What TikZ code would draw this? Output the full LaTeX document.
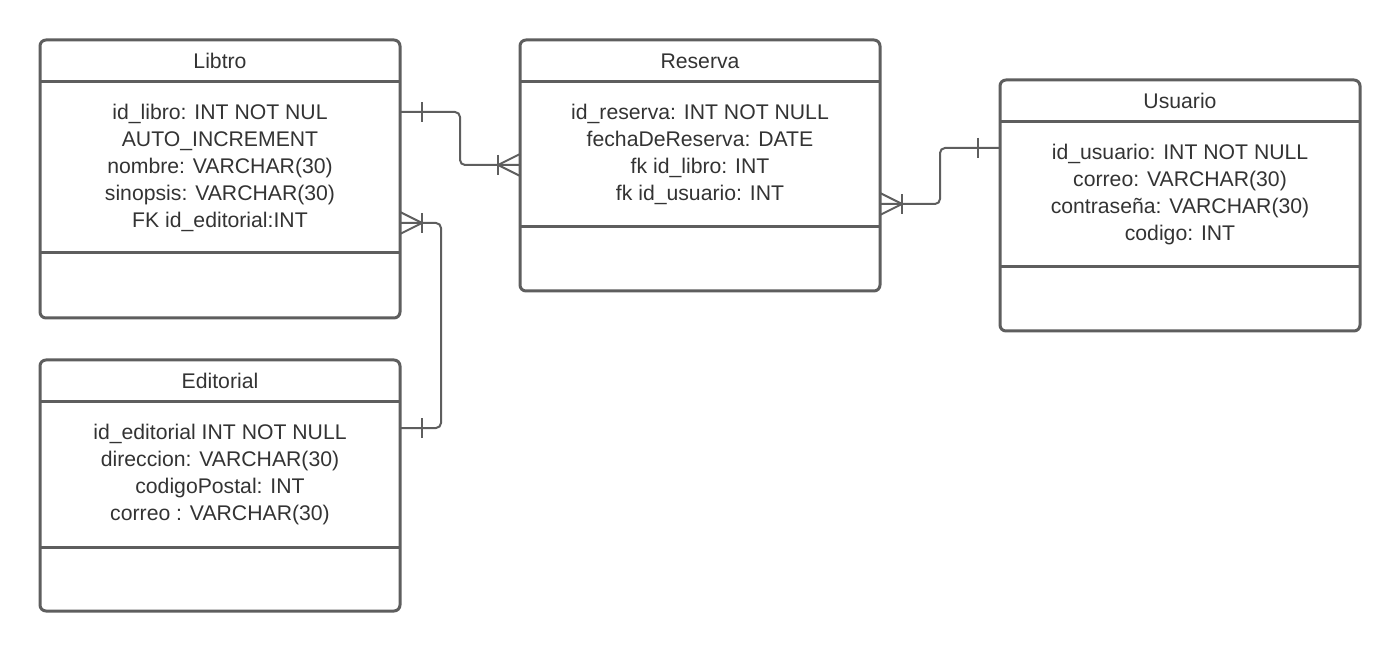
\documentclass[tikz,border=0pt]{standalone}
\usepackage{fontspec}
\setmainfont{Liberation Sans}
\usepackage{xcolor}
\usetikzlibrary{positioning}

\definecolor{lineclr}{HTML}{5E5E5E}
\definecolor{txtclr}{HTML}{333333}

\begin{document}
\begin{tikzpicture}[
        x=0.5pt, y=-0.5pt,
        table/.style={rectangle, draw=lineclr, line width=1.5pt, rounded corners=3pt,
          minimum width=180pt, inner sep=0pt, outer sep=0pt},
        head/.style={minimum width=180pt, minimum height=21pt, inner sep=0pt, outer sep=0pt,
          text=txtclr, font=\fontsize{10.6pt}{13.5pt}\selectfont},
        attrs/.style={minimum width=180pt, inner sep=0pt, outer sep=0pt, align=center,
          text=txtclr, font=\fontsize{10.6pt}{13.5pt}\selectfont},
        sep/.style={draw=lineclr, line width=1.5pt},
        rel/.style={draw=lineclr, line width=1pt, rounded corners=2.5pt},
        endmark/.style={draw=lineclr, line width=1pt},
        pics/one/.style={code={\draw[endmark] (11pt,-5pt) -- (11pt,5pt);}},
        pics/many/.style={code={
            \draw[endmark] (11pt,-5pt) -- (11pt,5pt);
            \draw[endmark] (0pt,-5.5pt) -- (11pt,0pt) -- (0pt,5.5pt);}}
      ]
      \useasboundingbox (0,0) rectangle (1400,651);

      % Libtro
      \node[table, minimum height=139pt] (libro) at (220,179) {};
      \node[head, below=0pt of libro.north] (libro-t) {Libtro};
      \node[attrs, minimum height=85.5pt, below=0pt of libro-t] (libro-a)
        {id\_libro: INT NOT NUL\\AUTO\_INCREMENT\\nombre: VARCHAR(30)\\sinopsis: VARCHAR(30)\\FK id\_editorial:INT};
      \draw[sep] (libro-a.north west) -- (libro-a.north east);
      \draw[sep] (libro-a.south west) -- (libro-a.south east);

      % Reserva
      \node[table, minimum height=125.5pt] (reserva) at (700,165.5) {};
      \node[head, below=0pt of reserva.north] (reserva-t) {Reserva};
      \node[attrs, minimum height=72.5pt, below=0pt of reserva-t] (reserva-a)
        {id\_reserva: INT NOT NULL\\fechaDeReserva: DATE\\fk id\_libro: INT\\fk id\_usuario: INT};
      \draw[sep] (reserva-a.north west) -- (reserva-a.north east);
      \draw[sep] (reserva-a.south west) -- (reserva-a.south east);

      % Usuario
      \node[table, minimum height=125.5pt] (usuario) at (1180,205.5) {};
      \node[head, below=0pt of usuario.north] (usuario-t) {Usuario};
      \node[attrs, minimum height=72.5pt, below=0pt of usuario-t] (usuario-a)
        {id\_usuario: INT NOT NULL\\correo: VARCHAR(30)\\contraseña: VARCHAR(30)\\codigo: INT};
      \draw[sep] (usuario-a.north west) -- (usuario-a.north east);
      \draw[sep] (usuario-a.south west) -- (usuario-a.south east);

      % Editorial
      \node[table, minimum height=125.5pt] (editorial) at (220,485.5) {};
      \node[head, below=0pt of editorial.north] (editorial-t) {Editorial};
      \node[attrs, minimum height=72.5pt, below=0pt of editorial-t] (editorial-a)
        {id\_editorial INT NOT NULL\\direccion: VARCHAR(30)\\codigoPostal: INT\\correo : VARCHAR(30)};
      \draw[sep] (editorial-a.north west) -- (editorial-a.north east);
      \draw[sep] (editorial-a.south west) -- (editorial-a.south east);

      % connector ends
      \coordinate (libro-r1) at ([yshift=-36pt]libro.north east);
      \coordinate (libro-r2) at ([yshift=-91.5pt]libro.north east);
      \coordinate (reserva-l) at ([yshift=-62.5pt]reserva.north west);
      \coordinate (reserva-r) at ([yshift=-82pt]reserva.north east);
      \coordinate (usuario-l) at ([yshift=-34pt]usuario.north west);
      \coordinate (editorial-r) at ([yshift=-34pt]editorial.north east);

      % relations
      \draw[rel] (libro-r1) -- ++(30pt,0pt) |- (reserva-l);
      \draw[rel] (editorial-r) -- ++(20.5pt,0pt) |- (libro-r2);
      \draw[rel] (reserva-r) -- ++(30pt,0pt) |- (usuario-l);

      \pic at (libro-r1) {one};
      \pic[rotate=180] at (reserva-l) {many};
      \pic at (editorial-r) {one};
      \pic at (libro-r2) {many};
      \pic at (reserva-r) {many};
      \pic[rotate=180] at (usuario-l) {one};
    \end{tikzpicture}
\end{document}
